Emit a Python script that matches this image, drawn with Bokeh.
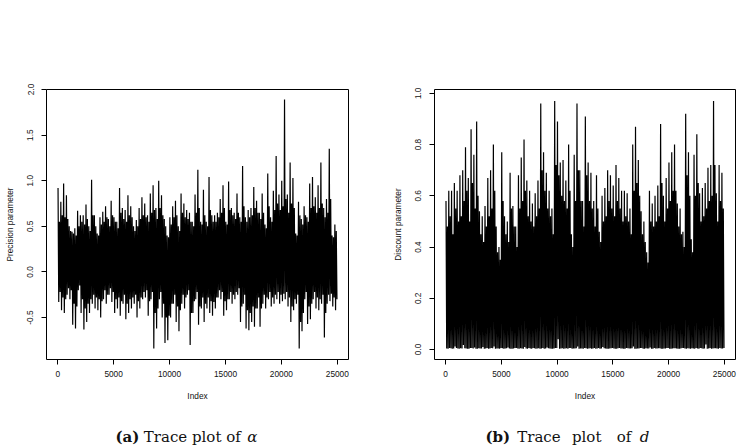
import numpy as np
from bokeh.plotting import figure
from bokeh.layouts import row, column
from bokeh.models import FixedTicker, Range1d
from bokeh.core.properties import value
from bokeh.embed import file_html
from bokeh.resources import INLINE

# ---------------- data ----------------
n_iter = 25000

# alpha trace, 100 bins of 250 iterations: extreme high / low and typical high / low per bin
alpha_hi = [0.92, 0.77, 0.97, 0.84, 0.50, 0.44, 0.48, 0.67, 0.62, 0.62,
            0.74, 0.50, 1.01, 0.62, 0.42, 0.60, 0.66, 0.72, 0.58, 0.78,
            0.60, 0.55, 0.92, 0.70, 0.68, 0.84, 0.72, 0.50, 0.57, 0.70,
            0.82, 0.75, 0.62, 0.86, 0.95, 0.70, 1.00, 0.84, 0.58, 0.40,
            0.60, 0.72, 0.78, 0.50, 0.86, 0.75, 0.68, 0.65, 0.55, 0.85,
            1.12, 0.55, 0.90, 0.55, 1.04, 0.62, 0.62, 0.65, 0.80, 0.95,
            0.55, 0.99, 0.70, 0.65, 0.86, 0.60, 1.16, 0.60, 0.68, 0.70,
            0.93, 0.78, 0.65, 0.86, 0.52, 1.08, 0.60, 0.89, 1.27, 0.85,
            1.00, 1.89, 0.85, 1.20, 1.03, 0.42, 0.77, 0.58, 0.72, 0.60,
            0.97, 1.04, 0.82, 0.95, 1.20, 0.70, 0.80, 1.35, 0.40, 0.52]
alpha_lo = [-0.33, -0.42, -0.45, -0.25, -0.30, -0.58, -0.62, -0.20, -0.45, -0.63,
            -0.55, -0.45, -0.35, -0.40, -0.42, -0.50, -0.30, -0.35, -0.25, -0.33,
            -0.45, -0.40, -0.48, -0.35, -0.52, -0.45, -0.40, -0.35, -0.50, -0.40,
            -0.30, -0.28, -0.48, -0.30, -0.84, -0.62, -0.30, -0.50, -0.78, -0.75,
            -0.50, -0.35, -0.55, -0.65, -0.35, -0.40, -0.25, -0.80, -0.45, -0.30,
            -0.58, -0.40, -0.55, -0.40, -0.45, -0.48, -0.40, -0.28, -0.30, -0.48,
            -0.42, -0.30, -0.35, -0.30, -0.25, -0.55, -0.35, -0.62, -0.64, -0.55,
            -0.60, -0.40, -0.60, -0.35, -0.40, -0.30, -0.38, -0.35, -0.30, -0.35,
            -0.32, -0.30, -0.38, -0.55, -0.42, -0.35, -0.84, -0.65, -0.30, -0.57,
            -0.52, -0.30, -0.40, -0.42, -0.35, -0.72, -0.35, -0.32, -0.38, -0.42]
alpha_mid_hi = [0.55, 0.62, 0.60, 0.58, 0.45, 0.42, 0.40, 0.50, 0.55, 0.52,
                0.58, 0.45, 0.62, 0.50, 0.40, 0.52, 0.55, 0.60, 0.50, 0.62,
                0.55, 0.48, 0.65, 0.58, 0.55, 0.62, 0.60, 0.45, 0.50, 0.58,
                0.62, 0.60, 0.55, 0.65, 0.68, 0.58, 0.70, 0.62, 0.50, 0.38,
                0.52, 0.60, 0.62, 0.45, 0.65, 0.60, 0.58, 0.55, 0.50, 0.65,
                0.70, 0.52, 0.62, 0.50, 0.68, 0.55, 0.55, 0.60, 0.65, 0.70,
                0.52, 0.68, 0.62, 0.58, 0.65, 0.55, 0.72, 0.55, 0.60, 0.62,
                0.70, 0.65, 0.58, 0.65, 0.48, 0.72, 0.55, 0.68, 0.75, 0.68,
                0.72, 0.80, 0.65, 0.75, 0.70, 0.40, 0.62, 0.52, 0.62, 0.55,
                0.70, 0.72, 0.65, 0.70, 0.75, 0.60, 0.65, 0.80, 0.38, 0.45]
alpha_mid_lo = [-0.22, -0.28, -0.30, -0.18, -0.20, -0.35, -0.38, -0.15, -0.30, -0.40,
                -0.35, -0.30, -0.25, -0.28, -0.30, -0.32, -0.20, -0.25, -0.18, -0.22,
                -0.30, -0.28, -0.32, -0.25, -0.35, -0.30, -0.28, -0.25, -0.32, -0.28,
                -0.22, -0.20, -0.32, -0.22, -0.45, -0.40, -0.22, -0.35, -0.50, -0.48,
                -0.35, -0.25, -0.38, -0.42, -0.25, -0.28, -0.20, -0.45, -0.32, -0.22,
                -0.38, -0.28, -0.35, -0.28, -0.32, -0.33, -0.28, -0.20, -0.22, -0.32,
                -0.30, -0.22, -0.25, -0.22, -0.18, -0.38, -0.25, -0.42, -0.45, -0.38,
                -0.40, -0.28, -0.40, -0.25, -0.28, -0.22, -0.28, -0.25, -0.22, -0.25,
                -0.24, -0.22, -0.28, -0.38, -0.30, -0.25, -0.55, -0.45, -0.22, -0.38,
                -0.35, -0.22, -0.28, -0.30, -0.25, -0.45, -0.25, -0.24, -0.28, -0.30]

# d trace, same bins
d_hi = [0.58, 0.62, 0.62, 0.65, 0.62, 0.68, 0.70, 0.79, 0.67, 0.86,
        0.76, 0.89, 0.54, 0.52, 0.56, 0.67, 0.70, 0.80, 0.48, 0.40,
        0.77, 0.52, 0.50, 0.69, 0.56, 0.48, 0.68, 0.75, 0.82, 0.66,
        0.62, 0.57, 0.61, 0.66, 0.96, 0.77, 0.69, 0.62, 0.55, 0.97,
        0.89, 0.73, 0.74, 0.66, 0.80, 0.45, 0.76, 0.96, 0.70, 0.58,
        0.91, 0.73, 0.69, 0.58, 0.68, 0.46, 0.60, 0.63, 0.70, 0.68,
        0.64, 0.72, 0.67, 0.62, 0.62, 0.61, 0.55, 0.80, 0.87, 0.74,
        0.54, 0.50, 0.38, 0.62, 0.57, 0.60, 0.64, 0.88, 0.60, 0.67,
        0.73, 0.77, 0.80, 0.57, 0.55, 0.46, 0.92, 0.77, 0.43, 0.76,
        0.84, 0.61, 0.63, 0.65, 0.71, 0.72, 0.97, 0.61, 0.72, 0.69]
d_lo = [0.004, 0.006, 0.003, 0.012, 0.004, 0.005, 0.018, 0.004, 0.003, 0.006,
        0.008, 0.003, 0.004, 0.010, 0.004, 0.003, 0.006, 0.012, 0.004, 0.003,
        0.005, 0.004, 0.008, 0.003, 0.004, 0.006, 0.003, 0.004, 0.010, 0.003,
        0.004, 0.006, 0.003, 0.005, 0.004, 0.003, 0.008, 0.004, 0.003, 0.006,
        0.040, 0.004, 0.003, 0.005, 0.006, 0.003, 0.004, 0.012, 0.004, 0.003,
        0.005, 0.004, 0.003, 0.006, 0.004, 0.003, 0.010, 0.004, 0.003, 0.005,
        0.004, 0.003, 0.006, 0.004, 0.003, 0.005, 0.004, 0.012, 0.003, 0.004,
        0.006, 0.003, 0.004, 0.008, 0.003, 0.004, 0.005, 0.003, 0.004, 0.006,
        0.003, 0.004, 0.005, 0.003, 0.004, 0.006, 0.003, 0.004, 0.005, 0.003,
        0.004, 0.006, 0.003, 0.020, 0.004, 0.003, 0.005, 0.004, 0.006, 0.004]
d_mid_hi = [0.48, 0.52, 0.45, 0.55, 0.50, 0.52, 0.58, 0.62, 0.50, 0.65,
            0.55, 0.60, 0.45, 0.42, 0.48, 0.52, 0.55, 0.62, 0.38, 0.35,
            0.58, 0.45, 0.42, 0.55, 0.48, 0.40, 0.55, 0.58, 0.62, 0.52,
            0.50, 0.48, 0.52, 0.55, 0.70, 0.62, 0.55, 0.52, 0.45, 0.72,
            0.68, 0.60, 0.58, 0.55, 0.62, 0.40, 0.58, 0.70, 0.58, 0.48,
            0.68, 0.58, 0.55, 0.48, 0.55, 0.42, 0.50, 0.52, 0.58, 0.55,
            0.52, 0.58, 0.55, 0.50, 0.52, 0.50, 0.45, 0.62, 0.65, 0.60,
            0.45, 0.42, 0.34, 0.50, 0.48, 0.50, 0.52, 0.65, 0.50, 0.55,
            0.58, 0.62, 0.62, 0.48, 0.45, 0.40, 0.68, 0.60, 0.38, 0.60,
            0.65, 0.50, 0.52, 0.55, 0.58, 0.60, 0.72, 0.50, 0.58, 0.55]
d_mid_lo = [0.003, 0.005, 0.004, 0.006, 0.003, 0.004, 0.005, 0.003, 0.006, 0.004,
            0.003, 0.005, 0.004, 0.003, 0.006, 0.004, 0.005, 0.003, 0.004, 0.006,
            0.003, 0.005, 0.004, 0.003, 0.006, 0.004, 0.005, 0.003, 0.004, 0.006,
            0.003, 0.005, 0.004, 0.003, 0.006, 0.004, 0.005, 0.003, 0.004, 0.006,
            0.003, 0.005, 0.004, 0.003, 0.006, 0.004, 0.005, 0.003, 0.004, 0.006,
            0.003, 0.005, 0.004, 0.003, 0.006, 0.004, 0.005, 0.003, 0.004, 0.006,
            0.003, 0.005, 0.004, 0.003, 0.006, 0.004, 0.005, 0.003, 0.004, 0.006,
            0.003, 0.005, 0.004, 0.003, 0.006, 0.004, 0.005, 0.003, 0.004, 0.006,
            0.003, 0.005, 0.004, 0.003, 0.006, 0.004, 0.005, 0.003, 0.004, 0.006,
            0.003, 0.005, 0.004, 0.003, 0.006, 0.004, 0.005, 0.003, 0.004, 0.006]

x_ticks = [0, 5000, 10000, 15000, 20000, 25000]
alpha_ticks = [-0.5, 0.0, 0.5, 1.0, 1.5, 2.0]
alpha_tick_labels = ["-0.5", "0.0", "0.5", "1.0", "1.5", "2.0"]
d_ticks = [0.0, 0.2, 0.4, 0.6, 0.8, 1.0]
d_tick_labels = ["0.0", "0.2", "0.4", "0.6", "0.8", "1.0"]

SANS = "Liberation Sans"
SERIF = "DejaVu Serif"
TOP_H = 420
CAP_H = 25


def trace_path(hi, lo, mhi, mlo):
    n = len(hi)
    step = n_iter / n
    base = np.arange(n) * step
    xs = np.empty(4 * n)
    ys = np.empty(4 * n)
    for k, (arr, frac) in enumerate(((hi, 0.125), (lo, 0.375), (mhi, 0.625), (mlo, 0.875))):
        xs[k::4] = base + frac * step
        ys[k::4] = arr
    return xs, ys


def make_panel(series, yticks, ylabels, ytitle, y0, y1, width, bl, br):
    p = figure(width=width, height=TOP_H, output_backend="svg", toolbar_location=None,
               x_range=Range1d(-1000, 26000), y_range=Range1d(y0, y1),
               min_border_left=bl, min_border_right=br,
               min_border_top=89, min_border_bottom=TOP_H - 359)
    p.background_fill_color = "white"
    p.border_fill_color = "white"
    p.outline_line_color = "black"
    p.outline_line_width = 1
    p.grid.visible = False

    xs, ys = trace_path(*series)
    p.line(xs, ys, line_color="black", line_width=1.2, line_join="bevel")

    for ax in (p.xaxis[0], p.yaxis[0]):
        ax.axis_line_color = None
        ax.major_tick_line_color = "black"
        ax.major_tick_in = 0
        ax.major_tick_out = 5
        ax.minor_tick_line_color = None
        ax.major_label_text_font = SANS
        ax.major_label_text_font_size = "8.3px"
        ax.major_label_text_color = "#111111"
        ax.axis_label_text_font = SANS
        ax.axis_label_text_font_size = "8.3px"
        ax.axis_label_text_font_style = "normal"
        ax.axis_label_text_color = "#111111"

    p.xaxis.ticker = FixedTicker(ticks=x_ticks)
    p.xaxis.major_label_overrides = {t: str(t) for t in x_ticks}
    p.xaxis.axis_label = "Index"
    p.xaxis.major_label_standoff = 6
    p.xaxis.axis_label_standoff = 11

    p.yaxis.ticker = FixedTicker(ticks=yticks)
    p.yaxis.major_label_overrides = {t: l for t, l in zip(yticks, ylabels)}
    p.yaxis.major_label_orientation = "vertical"
    p.yaxis.axis_label = ytitle
    p.yaxis.major_label_standoff = 8
    p.yaxis.axis_label_standoff = 10
    return p


def make_caption(width, bl, br, pieces):
    c = figure(width=width, height=CAP_H, output_backend="svg", toolbar_location=None,
               x_range=Range1d(-1000, 26000), y_range=Range1d(0, CAP_H),
               x_axis_location=None, y_axis_location=None,
               min_border_left=bl, min_border_right=br, min_border_top=0, min_border_bottom=0)
    c.outline_line_color = None
    c.grid.visible = False
    for txt, xpos, style in pieces:
        c.text(x=[xpos], y=[8.3], text=[txt], text_font=value(SERIF),
               text_font_style=style, text_font_size="15px", text_color="#111111",
               text_baseline="alphabetic")
    return c


p1 = make_panel((alpha_hi, alpha_lo, alpha_mid_hi, alpha_mid_lo), alpha_ticks,
                alpha_tick_labels, "Precision parameter", -0.96, 2.0, 370, 46, 22)
p2 = make_panel((d_hi, d_lo, d_mid_hi, d_mid_lo), d_ticks, d_tick_labels,
                "Discount parameter", -0.039, 1.015, 373, 64, 8)
c1 = make_caption(370, 46, 22, [("(a)", 5170, "bold"), ("Trace plot of", 7700, "normal"),
                                ("α", 16940, "italic")])
c2 = make_caption(373, 64, 8, [("(b)", 3575, "bold"), ("Trace", 6420, "normal"),
                               ("plot", 11330, "normal"), ("of", 15350, "normal"),
                               ("d", 17400, "italic")])

layout = column(row(p1, p2, spacing=0), row(c1, c2, spacing=0), spacing=0)
open("out.html", "w").write(file_html(layout, INLINE))
